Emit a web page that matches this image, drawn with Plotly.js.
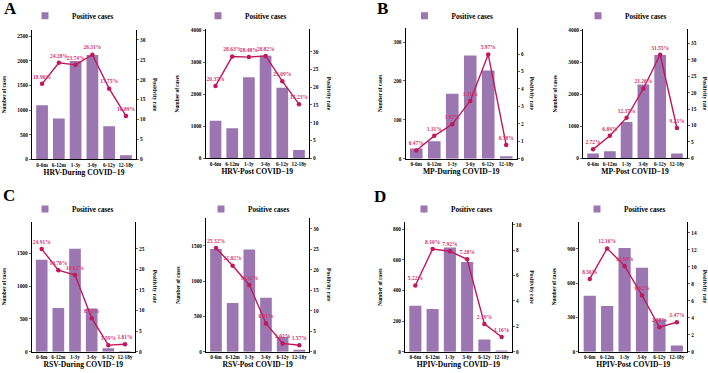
<!DOCTYPE html>
<html><head><meta charset="utf-8">
<script src="https://cdn.plot.ly/plotly-3.0.1.min.js"></script>
<style>
html,body{margin:0;padding:0;background:#fff}
</style>
</head><body><div id="chart" style="width:708px;height:373px"></div>
<script>
// ---------- data ----------
const ageGroups = ['0-6m','6-12m','1-3y','3-6y','6-12y','12-18y'];
const seriesName = 'Positive cases';

const hrvDuringCases = [1100, 830, 2000, 2120, 670, 80];
const hrvDuringRate  = [18.96, 24.28, 23.74, 26.31, 17.75, 10.89];
const hrvPostCases   = [1170, 940, 2530, 3200, 2200, 260];
const hrvPostRate    = [20.37, 28.63, 28.48, 28.82, 21.69, 15.23];

const mpDuringCases  = [26, 45, 167, 265, 227, 6];
const mpDuringRate   = [0.47, 1.31, 1.97, 3.31, 5.97, 0.78];
const mpPostCases    = [150, 220, 1130, 2300, 3220, 150];
const mpPostRate     = [2.72, 6.84, 12.37, 21.26, 31.55, 9.23];

const rsvDuringCases = [1400, 665, 1570, 660, 52, 10];
const rsvDuringRate  = [24.91, 19.78, 18.62, 8.13, 1.59, 1.81];
const rsvPostCases   = [1453, 690, 1448, 764, 212, 28];
const rsvPostRate    = [25.32, 21.02, 16.32, 6.91, 2.02, 1.57];

const hpivDuringCases = [300, 278, 680, 585, 80, 8];
const hpivDuringRate  = [5.22, 8.10, 7.92, 7.28, 2.19, 1.16];
const hpivPostCases   = [491, 400, 908, 736, 283, 55];
const hpivPostRate    = [8.56, 12.16, 10.10, 6.62, 2.88, 3.47];

const panelTitles = ['HRV-During COVID−19','HRV-Post COVID−19','MP-During COVID−19','MP-Post COVID−19',
                     'RSV-During COVID−19','RSV-Post COVID−19','HPIV-During COVID−19','HPIV-Post COVID−19'];
const leftTickVals = [[0,500,1000,1500,2000,2500],[0,1000,2000,3000,4000],[0,100,200,300],[0,1000,2000,3000,4000],
                      [0,500,1000,1500],[0,500,1000,1500],[0,200,400,600,800],[0,300,600,900]];
const rightTickVals = [[0,5,10,15,20,25,30],[0,5,10,15,20,25,30],[0,1,2,3,4,5,6],[0,5,10,15,20,25,30,35],
                       [0,5,10,15,20,25],[0,5,10,15,20,25,30],[0,2,4,6,8,10],[0,2,4,6,8,10,12,14]];
const panelLetters = ['A','B','C','D'];
const leftTitle = 'Number of cases';
const rightTitle = 'Positivity rate';

const casesList = [hrvDuringCases, hrvPostCases, mpDuringCases, mpPostCases, rsvDuringCases, rsvPostCases, hpivDuringCases, hpivPostCases];
const rateList  = [hrvDuringRate, hrvPostRate, mpDuringRate, mpPostRate, rsvDuringRate, rsvPostRate, hpivDuringRate, hpivPostRate];

// ---------- layout geometry (pixels) ----------
const W = 708, H = 373;
const boxes = [[32,136,30,159.3],[205.5,309,29.3,158.3],[405.5,517,28,158.7],[583,687,29.3,158.3],
               [31.7,135,221.7,351.7],[206,309.3,218.3,351.7],[405,512,222.3,351.7],[579.3,687.3,221.7,351.7]];
const leftMax  = [2628, 4022, 336, 4022, 1982, 1888, 844, 1139];
const rightMax = [32.5, 36.3, 7.49, 39.3, 31.55, 32.6, 10.2, 15.3];
const legendPos = [[32,15.7],[205,15.7],[411.5,15.7],[585,15.7],[32,209],[208,209],[411,209],[584,209]];
const rightTitleX = [155.7,329,531.7,705,155,329,531.7,705];
const letterPos = [[1.5,8],[374.5,8.3],[0.5,195.5],[371.5,196]];

const serif = 'Liberation Serif, Times New Roman, serif';
const barColor = '#9b76b0';
const lineColor = '#c2185b';
const labelColor = '#d3336f';

const traces = [];
const layout = {
  width: W, height: H,
  margin: {l:0, r:0, t:0, b:0},
  paper_bgcolor: '#fff', plot_bgcolor: 'rgba(0,0,0,0)',
  font: {family: serif, color: '#000'},
  annotations: [],
  showlegend: true
};

const tickFont = {family: serif, size: 5.3, color: '#000', weight: 'bold'};

for (let i = 0; i < 8; i++) {
  const xKey = i === 0 ? 'x' : 'x' + (i + 1);
  const yLeft = 2 * i + 1, yRight = 2 * i + 2;
  const yLKey = yLeft === 1 ? 'y' : 'y' + yLeft;
  const yRKey = 'y' + yRight;
  const legKey = i === 0 ? 'legend' : 'legend' + (i + 1);
  const [l, r, t, b] = boxes[i];

  traces.push({
    type: 'bar', x: ageGroups, y: casesList[i], name: seriesName,
    xaxis: xKey, yaxis: yLKey, legend: legKey, showlegend: true,
    marker: {color: barColor, line: {width: 0}}, width: 0.7,
    hoverinfo: 'x+y'
  });
  traces.push({
    type: 'scatter', mode: 'lines+markers+text', x: ageGroups, y: rateList[i],
    xaxis: xKey, yaxis: yRKey, showlegend: false, name: 'Positivity rate',
    line: {color: lineColor, width: 1.4},
    marker: {color: lineColor, size: 4.5},
    text: rateList[i].map(v => v.toFixed(2) + '%'),
    textposition: 'top center',
    textfont: {family: serif, size: 5.5, color: labelColor, weight: 'bold'},
    cliponaxis: false
  });

  layout['xaxis' + (i === 0 ? '' : i + 1)] = {
    domain: [l / W, r / W], anchor: yLKey,
    range: [-0.6, 5.6], showgrid: false, zeroline: false,
    showline: true, linecolor: '#000', linewidth: 1,
    ticks: '', tickfont: tickFont, fixedrange: true,
    title: {text: panelTitles[i], font: {family: serif, size: 7.6, color: '#000', weight: 'bold'}, standoff: 2}
  };
  layout['yaxis' + (yLeft === 1 ? '' : yLeft)] = {
    domain: [1 - b / H, 1 - t / H], anchor: xKey,
    range: [0, leftMax[i]], tickvals: leftTickVals[i], showgrid: false, zeroline: false,
    showline: true, linecolor: '#000', linewidth: 1,
    ticks: 'outside', ticklen: 2, tickwidth: 0.8, tickfont: tickFont, fixedrange: true,
    title: {text: leftTitle, font: {family: serif, size: 5.3, color: '#000', weight: 'bold'}, standoff: 10}
  };
  layout['yaxis' + yRight] = {
    overlaying: yLKey, side: 'right', anchor: xKey,
    range: [0, rightMax[i]], tickvals: rightTickVals[i], ticksuffix: '%',
    showgrid: false, zeroline: false,
    showline: true, linecolor: '#000', linewidth: 1,
    ticks: 'outside', ticklen: 2, tickwidth: 0.8, tickfont: tickFont, fixedrange: true
  };
  layout[legKey] = {
    x: legendPos[i][0] / W, y: 1 - legendPos[i][1] / H, xanchor: 'left', yanchor: 'middle',
    bgcolor: 'rgba(0,0,0,0)', borderwidth: 0,
    font: {family: serif, size: 7.2, color: '#000', weight: 'bold'}
  };
  layout.annotations.push({
    xref: 'paper', yref: 'paper', x: rightTitleX[i] / W, y: 1 - ((t + b) / 2) / H,
    text: rightTitle, textangle: 90, showarrow: false, xanchor: 'center', yanchor: 'middle',
    font: {family: serif, size: 5.6, color: '#000', weight: 'bold'}
  });
}

panelLetters.forEach((letter, k) => {
  layout.annotations.push({
    xref: 'paper', yref: 'paper', x: letterPos[k][0] / W, y: 1 - letterPos[k][1] / H,
    text: letter, showarrow: false, xanchor: 'left', yanchor: 'middle',
    font: {family: serif, size: 17, color: '#000', weight: 'bold'}
  });
});

// shrink the legend swatches and bring them next to their labels, as in the reference
function tidyLegendSwatches() {
  document.querySelectorAll('#chart g.legendpoints path').forEach(p => {
    p.setAttribute('transform', 'translate(13,0) scale(0.58)');
  });
}

Plotly.newPlot('chart', traces, layout, {displayModeBar: false, staticPlot: true}).then(gd => {
  tidyLegendSwatches();
  gd.on('plotly_afterplot', tidyLegendSwatches);
});
</script>
</body></html>
